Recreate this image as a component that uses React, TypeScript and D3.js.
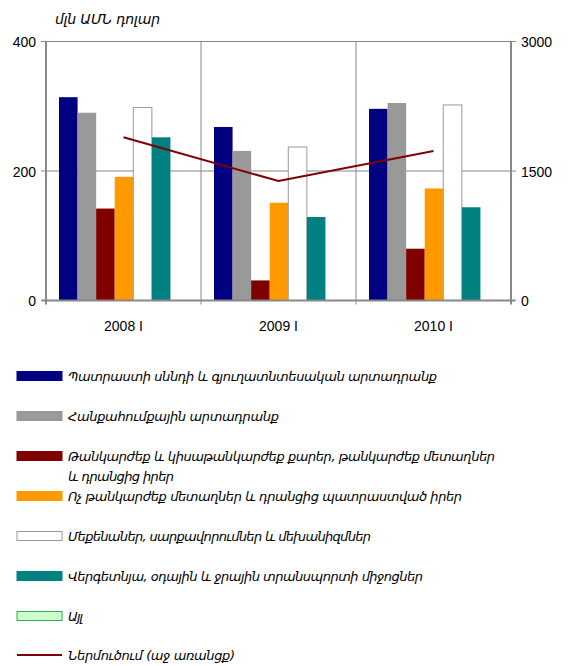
import React from "react";
import * as d3 from "d3";

const categories = ["2008 I", "2009 I", "2010 I"];
const seriesNames = [
  "Պատրաստի սննդի և գյուղատնտեսական արտադրանք",
  "Հանքահումքային արտադրանք",
  "Թանկարժեք և կիսաթանկարժեք քարեր, թանկարժեք մետաղներ|և դրանցից իրեր",
  "Ոչ թանկարժեք մետաղներ և դրանցից պատրաստված իրեր",
  "Մեքենաներ, սարքավորումներ և մեխանիզմներ",
  "Վերգետնյա, օդային և ջրային տրանսպորտի միջոցներ",
  "Այլ",
];
const food = [314, 268, 296];
const mineral = [290, 231, 305];
const precious = [142, 31, 80];
const baseMetals = [191, 151, 173];
const machinery = [298, 237, 302];
const transport = [252, 129, 144];
const other: (number | null)[] = [null, null, null];
const imports = [1890, 1384, 1732];
const lineName = "Ներմուծում (աջ առանցք)";
const leftTicks = [0, 200, 400];
const rightTicks = [0, 1500, 3000];
const yTitle = "մլն ԱՄՆ դոլար";

const fills = ["#000080", "#999999", "#800000", "#ff9900", "#ffffff", "#008080", "#ccffcc"];
const strokes = ["none", "none", "none", "none", "#999999", "none", "#33aa55"];
const lineColor = "#800000";
// measured text widths of legend rows (for spacing fit)
const legendWidths = [[369], [211], [427, 106], [394], [303], [355], [15]];

export default function App() {
  const values = [food, mineral, precious, baseMetals, machinery, transport, other];
  const left = 46, right = 511, top = 41.5, bottom = 300.5;
  const x = d3.scaleBand<string>().domain(categories).range([left, right]).padding(0);
  const inner = d3
    .scaleBand<number>()
    .domain(d3.range(values.length))
    .range([13, x.bandwidth() - 12])
    .padding(0);
  const y = d3.scaleLinear().domain([0, 400]).range([bottom, top]);
  const yr = d3.scaleLinear().domain([0, 3000]).range([bottom, top]);
  const line = d3
    .line<number>()
    .x((_, i) => (x(categories[i]) as number) + x.bandwidth() / 2)
    .y((d) => yr(d));
  const font = "'Liberation Sans', Arial, sans-serif";
  const afont = "'DejaVu Sans', sans-serif";
  const axisColor = "#888888";
  const legendY = [376, 416, 456, 496, 536, 576, 616];

  return (
    <svg
      width={569}
      height={666}
      style={{ position: "absolute", left: 0, top: 0, background: "#fff" }}
    >
      <rect x={0} y={0} width={569} height={666} fill="#fff" />
      {leftTicks.slice(1).map((t) => (
        <line key={"g" + t} x1={left} x2={right} y1={y(t)} y2={y(t)} stroke={axisColor} strokeWidth={1} />
      ))}
      {categories.slice(1).map((c) => (
        <line
          key={"v" + c}
          x1={x(c) as number}
          x2={x(c) as number}
          y1={top}
          y2={bottom + 4}
          stroke={axisColor}
          strokeWidth={1}
        />
      ))}
      {values.map((vals, si) =>
        vals.map((v, ci) =>
          v == null ? null : (
            <rect
              key={si + "-" + ci}
              x={(x(categories[ci]) as number) + (inner(si) as number)}
              y={y(v)}
              width={inner.bandwidth()}
              height={bottom - y(v)}
              fill={fills[si]}
              stroke={strokes[si]}
              strokeWidth={1}
            />
          )
        )
      )}
      <path d={line(imports) || ""} fill="none" stroke={lineColor} strokeWidth={2} />
      <line x1={left} x2={left} y1={top} y2={bottom + 4} stroke={axisColor} strokeWidth={2} />
      <line x1={right} x2={right} y1={top} y2={bottom + 4} stroke={axisColor} strokeWidth={2} />
      <line x1={left - 4} x2={right + 4} y1={bottom} y2={bottom} stroke={axisColor} strokeWidth={2} />
      {leftTicks.map((t) => (
        <g key={"lt" + t}>
          <line x1={left - 5} x2={left} y1={y(t)} y2={y(t)} stroke={axisColor} strokeWidth={1} />
          <text x={left - 10} y={y(t) + 1} dy="0.35em" textAnchor="end" fontFamily={font} fontSize={14} fill="#000">
            {t}
          </text>
        </g>
      ))}
      {rightTicks.map((t) => (
        <g key={"rt" + t}>
          <line x1={right} x2={right + 5} y1={yr(t)} y2={yr(t)} stroke={axisColor} strokeWidth={1} />
          <text x={right + 10} y={yr(t) + 1} dy="0.35em" textAnchor="start" fontFamily={font} fontSize={14} fill="#000">
            {t}
          </text>
        </g>
      ))}
      {categories.map((c) => (
        <text
          key={"c" + c}
          x={(x(c) as number) + x.bandwidth() / 2}
          y={331}
          textAnchor="middle"
          fontFamily={font}
          fontSize={14}
          fill="#000"
        >
          {c}
        </text>
      ))}
      <text
        x={55}
        y={24}
        fontFamily={afont}
        fontStyle="italic"
        fontSize={14}
        fill="#000"
        textLength={105}
        lengthAdjust="spacing"
      >
        {yTitle}
      </text>
      {seriesNames.map((name, i) => (
        <g key={"lg" + i}>
          <rect
            x={17}
            y={legendY[i] - 4.5}
            width={45}
            height={9}
            fill={fills[i]}
            stroke={strokes[i] === "none" ? fills[i] : strokes[i]}
            strokeWidth={1}
          />
          {name.split("|").map((part, k) => (
            <text
              key={k}
              x={68}
              y={legendY[i] + k * 20}
              dy="0.35em"
              fontFamily={afont}
              fontStyle="italic"
              fontSize={13}
              fill="#000"
              textLength={legendWidths[i][k]}
              lengthAdjust="spacing"
            >
              {part}
            </text>
          ))}
        </g>
      ))}
      <line x1={17} x2={62} y1={655} y2={655} stroke={lineColor} strokeWidth={2} />
      <text
        x={68}
        y={655}
        dy="0.35em"
        fontFamily={afont}
        fontStyle="italic"
        fontSize={13}
        fill="#000"
        textLength={167}
        lengthAdjust="spacing"
      >
        {lineName}
      </text>
    </svg>
  );
}
